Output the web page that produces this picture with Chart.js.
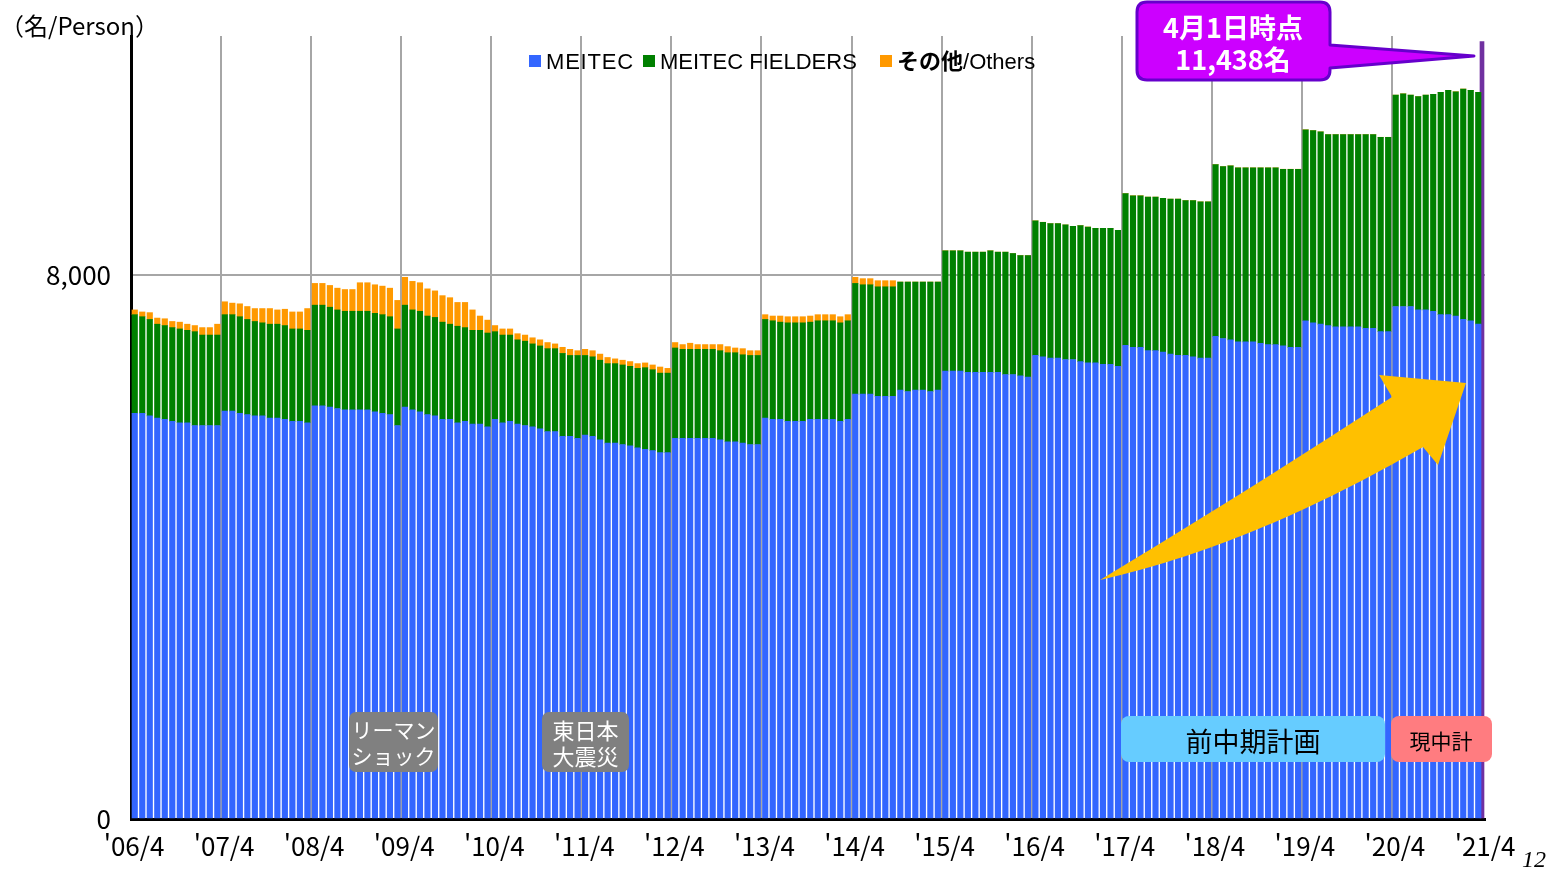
<!DOCTYPE html>
<html lang="ja">
<head>
<meta charset="utf-8">
<title>MEITEC group headcount</title>
<script src="https://cdn.jsdelivr.net/npm/chart.js@4.4.1/dist/chart.umd.min.js"></script>
<style>
  html, body { margin: 0; padding: 0; background: #fff; }
  #wrap { position: relative; width: 1552px; height: 870px; overflow: hidden; }
  #chart { position: absolute; left: 0; top: 0; }
  #overlay { position: absolute; left: 0; top: 0; pointer-events: none; }
</style>
</head>
<body>
<div id="wrap">
  <canvas id="chart" width="1552" height="870"></canvas>
  <svg id="overlay" width="1552" height="870" xmlns="http://www.w3.org/2000/svg">
    <!-- unit label -->
    <text x="0" y="35" font-family="'Noto Sans CJK JP', sans-serif" font-size="24" fill="#000">（名/Person）</text>

    <!-- legend -->
    <rect x="529" y="55" width="12" height="12" fill="#3366FF"/>
    <text x="546" y="69" font-family="'Liberation Sans', Arial, sans-serif" font-size="22" letter-spacing="0.8" fill="#000">MEITEC</text>
    <rect x="643" y="55" width="12" height="12" fill="#008000"/>
    <text x="660" y="69" font-family="'Liberation Sans', Arial, sans-serif" font-size="22" fill="#000">MEITEC FIELDERS</text>
    <rect x="880" y="55" width="12" height="12" fill="#FF9900"/>
    <text x="897" y="69" font-family="'Liberation Sans', Arial, sans-serif" font-size="22" fill="#000"><tspan font-family="'Noto Sans CJK JP', sans-serif" font-weight="bold">その他</tspan>/Others</text>

    <!-- callout for 2021/4/1 -->
    <path d="M1147,2 H1320 Q1330,2 1330,12 V45 L1474,56 L1330,68 V70 Q1330,80 1320,80 H1147 Q1137,80 1137,70 V12 Q1137,2 1147,2 Z"
          fill="#CC00FF" stroke="#6600CC" stroke-width="3" stroke-linejoin="round"/>
    <text x="1233" y="26" text-anchor="middle" dominant-baseline="central" font-family="'Noto Sans CJK JP', sans-serif" font-size="27" font-weight="bold" fill="#fff">4月1日時点</text>
    <text x="1233" y="58" text-anchor="middle" dominant-baseline="central" font-family="'Noto Sans CJK JP', sans-serif" font-size="27" font-weight="bold" fill="#fff">11,438名</text>

    <!-- growth arrow -->
    <path d="M1100,580 Q1246,492 1392,397 L1379,375 L1466,383 L1438,465 L1423,447 Q1252,546 1100,580 Z" fill="#FFC000"/>

    <!-- event / plan boxes -->
    <rect x="349" y="712" width="89" height="60" rx="7" fill="#808080"/>
    <text x="393.5" y="729" text-anchor="middle" dominant-baseline="central" font-family="'Noto Sans CJK JP', sans-serif" font-size="21" fill="#fff">リーマン</text>
    <text x="393.5" y="755" text-anchor="middle" dominant-baseline="central" font-family="'Noto Sans CJK JP', sans-serif" font-size="21" fill="#fff">ショック</text>

    <rect x="542" y="712" width="87" height="60" rx="7" fill="#808080"/>
    <text x="585.5" y="729" text-anchor="middle" dominant-baseline="central" font-family="'Noto Sans CJK JP', sans-serif" font-size="22" fill="#fff">東日本</text>
    <text x="585.5" y="755" text-anchor="middle" dominant-baseline="central" font-family="'Noto Sans CJK JP', sans-serif" font-size="22" fill="#fff">大震災</text>

    <rect x="1121" y="716" width="264" height="46" rx="8" fill="#66CCFF"/>
    <text x="1253" y="740" text-anchor="middle" dominant-baseline="central" font-family="'Noto Sans CJK JP', sans-serif" font-size="27" fill="#000">前中期計画</text>

    <rect x="1391" y="716" width="101" height="46" rx="8" fill="#FF7C80"/>
    <text x="1441" y="740" text-anchor="middle" dominant-baseline="central" font-family="'Noto Sans CJK JP', sans-serif" font-size="21" fill="#000">現中計</text>

    <!-- page number -->
    <text x="1522" y="867" font-family="'Liberation Serif', serif" font-style="italic" font-size="24" fill="#000">12</text>
  </svg>
</div>
<script>
// year boundary labels ('06/4 .. '21/4), one tick every 12 months
const tickLabels = ["'06/4", "'07/4", "'08/4", "'09/4", "'10/4", "'11/4", "'12/4", "'13/4",
  "'14/4", "'15/4", "'16/4", "'17/4", "'18/4", "'19/4", "'20/4", "'21/4"];

// monthly headcount, Apr 2006 .. Mar 2021 (one row per fiscal year)
const meitec = [
  5970, 5970, 5930, 5900, 5880, 5850, 5830, 5830, 5790, 5790, 5790, 5790,
  6000, 6000, 5970, 5950, 5930, 5930, 5900, 5900, 5880, 5850, 5850, 5830,
  6080, 6080, 6060, 6040, 6020, 6020, 6020, 6020, 5990, 5970, 5950, 5790,
  6060, 6020, 5990, 5950, 5930, 5880, 5880, 5830, 5850, 5810, 5810, 5770,
  5880, 5830, 5850, 5810, 5790, 5770, 5740, 5700, 5700, 5630, 5630, 5600,
  5650, 5630, 5580, 5530, 5530, 5510, 5490, 5460, 5440, 5420, 5390, 5390,
  5600, 5600, 5600, 5600, 5600, 5600, 5580, 5550, 5550, 5530, 5510, 5510,
  5900, 5880, 5880, 5850, 5850, 5850, 5880, 5880, 5880, 5880, 5850, 5880,
  6250, 6250, 6250, 6220, 6220, 6220, 6310, 6290, 6310, 6310, 6290, 6310,
  6590, 6590, 6590, 6570, 6570, 6570, 6570, 6570, 6540, 6540, 6520, 6500,
  6820, 6800, 6780, 6780, 6760, 6760, 6730, 6710, 6710, 6690, 6690, 6660,
  6970, 6940, 6940, 6890, 6890, 6870, 6840, 6820, 6820, 6800, 6780, 6780,
  7100, 7070, 7050, 7020, 7020, 7020, 7000, 6980, 6980, 6960, 6940, 6940,
  7330, 7300, 7280, 7260, 7240, 7240, 7240, 7240, 7220, 7220, 7170, 7170,
  7540, 7540, 7540, 7490, 7490, 7470, 7420, 7420, 7400, 7350, 7330, 7280
];

const fielders = [
  1450, 1420, 1420, 1380, 1380, 1380, 1380, 1360, 1380, 1330, 1330, 1330,
  1420, 1420, 1420, 1400, 1390, 1370, 1380, 1380, 1380, 1360, 1360, 1360,
  1480, 1480, 1470, 1450, 1450, 1450, 1450, 1450, 1450, 1450, 1440, 1420,
  1500, 1470, 1480, 1450, 1450, 1430, 1400, 1420, 1380, 1380, 1380, 1380,
  1290, 1290, 1270, 1240, 1240, 1220, 1220, 1220, 1220, 1220, 1190, 1220,
  1170, 1170, 1170, 1170, 1170, 1170, 1170, 1170, 1200, 1190, 1170, 1170,
  1330, 1310, 1310, 1310, 1310, 1310, 1310, 1310, 1310, 1300, 1310, 1310,
  1450, 1450, 1430, 1450, 1450, 1450, 1430, 1450, 1450, 1450, 1450, 1450,
  1630, 1610, 1610, 1610, 1610, 1610, 1590, 1610, 1590, 1590, 1610, 1590,
  1770, 1770, 1770, 1770, 1770, 1770, 1790, 1770, 1800, 1780, 1770, 1790,
  1980, 1980, 1980, 1980, 1980, 1960, 2000, 2000, 1980, 2000, 2000, 2000,
  2230, 2230, 2230, 2260, 2260, 2260, 2280, 2300, 2280, 2300, 2300, 2300,
  2530, 2530, 2560, 2560, 2560, 2560, 2580, 2600, 2600, 2600, 2620, 2620,
  2810, 2830, 2830, 2810, 2830, 2830, 2830, 2830, 2850, 2850, 2860, 2860,
  3110, 3130, 3110, 3140, 3160, 3190, 3270, 3300, 3300, 3390, 3390, 3410
];

const others = [
  70, 70, 100, 90, 100, 90, 100, 90, 90, 110, 110, 160,
  190, 170, 190, 190, 190, 210, 230, 210, 240, 250, 250, 320,
  320, 320, 320, 320, 320, 320, 420, 420, 420, 420, 420, 420,
  410, 420, 420, 400, 390, 390, 390, 350, 370, 300, 210, 190,
  90, 90, 90, 90, 90, 90, 90, 90, 70, 90, 90, 70,
  90, 90, 90, 90, 70, 70, 70, 70, 70, 70, 90, 70,
  80, 70, 90, 70, 70, 70, 90, 90, 70, 90, 70, 70,
  70, 70, 90, 90, 90, 90, 90, 90, 90, 90, 90, 90,
  90, 90, 90, 90, 90, 90, 0, 0, 0, 0, 0, 0,
  0, 0, 0, 0, 0, 0, 0, 0, 0, 0, 0, 0,
  0, 0, 0, 0, 0, 0, 0, 0, 0, 0, 0, 0,
  0, 0, 0, 0, 0, 0, 0, 0, 0, 0, 0, 0,
  0, 0, 0, 0, 0, 0, 0, 0, 0, 0, 0, 0,
  0, 0, 0, 0, 0, 0, 0, 0, 0, 0, 0, 0,
  0, 0, 0, 0, 0, 0, 0, 0, 0, 0, 0, 0
];

// total as of 2021/4/1 (purple bar at the right edge)
const totalApr2021 = 11438;

const yTicks = [0, 8000];

// month i sits in the middle of its slot, year boundaries fall on multiples of 12
const toPoints = arr => arr.map((v, i) => ({ x: i + 0.5, y: v }));

const tickFont = { family: "'Noto Sans CJK JP', sans-serif", size: 26 };

new Chart(document.getElementById('chart'), {
  type: 'bar',
  data: {
    datasets: [
      { label: 'MEITEC', data: toPoints(meitec), backgroundColor: '#3366FF', barThickness: 5.5 },
      { label: 'MEITEC FIELDERS', data: toPoints(fielders), backgroundColor: '#008000', barThickness: 5.5 },
      { label: 'その他/Others', data: toPoints(others), backgroundColor: '#FF9900', barThickness: 5.5 },
      { label: '4月1日時点', data: [{ x: tickLabels.length * 12 - 12, y: totalApr2021 }], backgroundColor: '#7030A0', barThickness: 4 }
    ]
  },
  options: {
    responsive: false,
    animation: false,
    layout: { padding: { top: 36, right: 67, left: 0, bottom: 0 } },
    plugins: { legend: { display: false }, tooltip: { enabled: false } },
    scales: {
      x: {
        type: 'linear',
        stacked: true,
        offset: false,
        min: 0,
        max: 180.4,
        afterBuildTicks: s => { s.ticks = tickLabels.map((_, i) => ({ value: i * 12 })); },
        afterFit: s => { s.height = 51; },
        ticks: {
          autoSkip: false, maxRotation: 0, minRotation: 0,
          padding: 12, labelOffset: 3,
          color: '#000', font: tickFont,
          callback: (v, i) => tickLabels[i]
        },
        grid: {
          offset: false,
          drawTicks: false,
          lineWidth: 2,
          color: c => (c.tick && c.tick.value > 0 && c.tick.value < 180) ? '#A6A6A6' : 'rgba(0,0,0,0)'
        },
        border: { color: '#000', width: 3 }
      },
      y: {
        stacked: true,
        min: 0,
        max: 11520,
        z: 1,
        afterBuildTicks: s => { s.ticks = yTicks.map(v => ({ value: v })); },
        afterFit: s => { s.width = 131; },
        ticks: {
          padding: 20,
          color: '#000', font: tickFont,
          callback: v => Number(v).toLocaleString('en-US')
        },
        grid: {
          drawTicks: false,
          lineWidth: 2,
          color: c => (c.tick && c.tick.value === 8000) ? '#A6A6A6' : 'rgba(0,0,0,0)'
        },
        border: { color: '#000', width: 3 }
      }
    }
  }
});
</script>
</body>
</html>
